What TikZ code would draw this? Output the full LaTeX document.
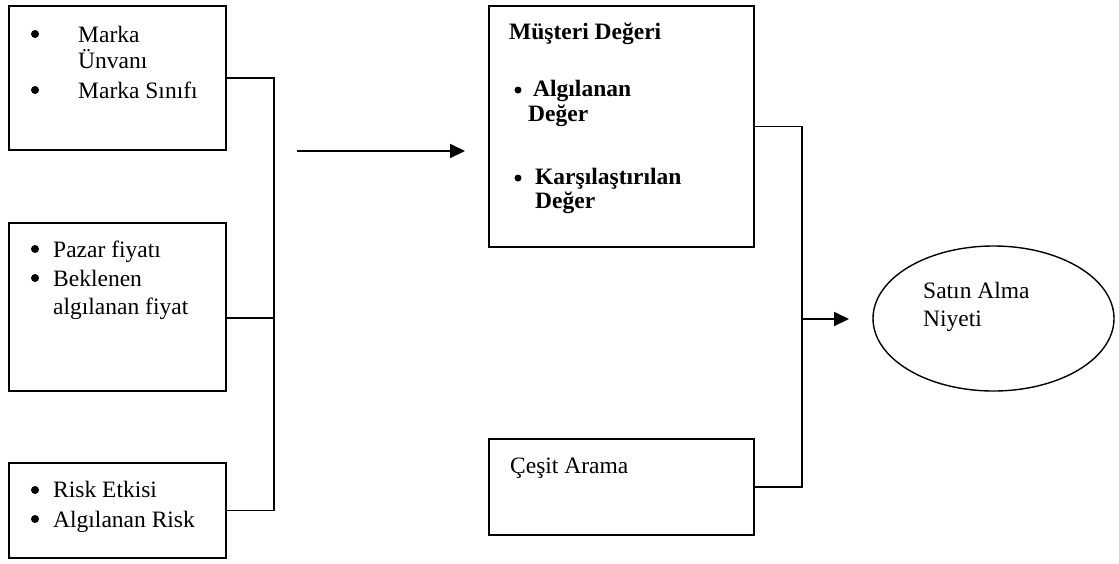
\documentclass[tikz,border=0pt]{standalone}
\usepackage{fontspec}
\setmainfont{Liberation Serif}
\usetikzlibrary{arrows.meta,shapes.geometric,calc}
\begin{document}
\begin{tikzpicture}[x=1pt,y=-1pt,
  box/.style={draw,line width=1.8pt,inner sep=0pt},
  oval/.style={draw,ellipse,line width=1.4pt,inner sep=0pt},
  link/.style={line width=1.8pt},
  flow/.style={line width=1.8pt,-{Triangle[length=15pt,width=14pt]}},
  dot/.style={circle,fill,inner sep=0pt,minimum size=8pt},
  bdot/.style={circle,fill,inner sep=0pt,minimum size=7pt},
  txt/.style={inner sep=0pt,anchor=base west,font=\fontsize{23.5}{28}\selectfont},
  btxt/.style={txt,font=\fontsize{23.5}{28}\selectfont\bfseries}]
\useasboundingbox (0,0) rectangle (1119,563);

% input boxes on the left
\node[box,minimum width=217pt,minimum height=144pt] (b1) at (117.5,78) {};
\node[box,minimum width=217pt,minimum height=168pt] (b2) at (117.5,307) {};
\node[box,minimum width=217pt,minimum height=95pt]  (b3) at (117.5,510.5) {};

% middle boxes
\node[box,minimum width=265pt,minimum height=241pt] (bm) at (621.5,126.5) {};
\node[box,minimum width=265pt,minimum height=96pt]  (bc) at (621.5,487) {};

% outcome
\node[oval,minimum width=241pt,minimum height=145pt] (ov) at (993.5,318.5) {};

% bullets
\node[dot] (d1a) at (35,34) {};
\node[dot] (d1b) at (35,90) {};
\node[dot] (d2a) at (35,249) {};
\node[dot] (d2b) at (35,278) {};
\node[dot] (d3a) at (35,490) {};
\node[dot] (d3b) at (35,519) {};
\node[bdot] (dma) at (518,90) {};
\node[bdot] (dmb) at (518,178) {};

% box texts
\node[txt] (t1b) at (78,42) {Marka};
\node[txt] (t1c) at (78,68) {Ünvanı};
\node[txt] (t1e) at (78,98) {Marka Sınıfı};

\node[txt] (t2b) at (53,257) {Pazar fiyatı};
\node[txt] (t2d) at (53,286) {Beklenen};
\node[txt] (t2e) at (53,314) {algılanan fiyat};

\node[txt] (t3b) at (53,497) {Risk Etkisi};
\node[txt] (t3d) at (53,527) {Algılanan Risk};

\node[btxt] (tma) at (509,39) {Müşteri Değeri};
\node[btxt] (tmc) at (533,96) {Algılanan};
\node[btxt] (tmd) at (528,121) {Değer};
\node[btxt] (tmf) at (535,184) {Karşılaştırılan};
\node[btxt] (tmg) at (535,208) {Değer};

\node[txt] (tc) at (510,473) {Çeşit Arama};

\node[txt] (to1) at (923,298) {Satın Alma};
\node[txt] (to2) at (923,326) {Niyeti};

% connectors
\coordinate (jl) at (274,0);
\coordinate (jr) at (802,0);
\coordinate (a1) at (297,151);
\coordinate (a2) at (465,151);
\coordinate (a3) at (849,319);
\coordinate (b2e) at ($(b2.east)+(0,11)$);

\draw[link] (b1.east) -- (b1.east -| jl) -- (b3.east -| jl) -- (b3.east);
\draw[link] (b2e) -- (b2e -| jl);
\draw[flow] (a1) -- (a2);

\draw[link] (bm.east) -- (bm.east -| jr) -- (bc.east -| jr) -- (bc.east);
\draw[flow] (a3 -| jr) -- (a3);
\end{tikzpicture}
\end{document}
